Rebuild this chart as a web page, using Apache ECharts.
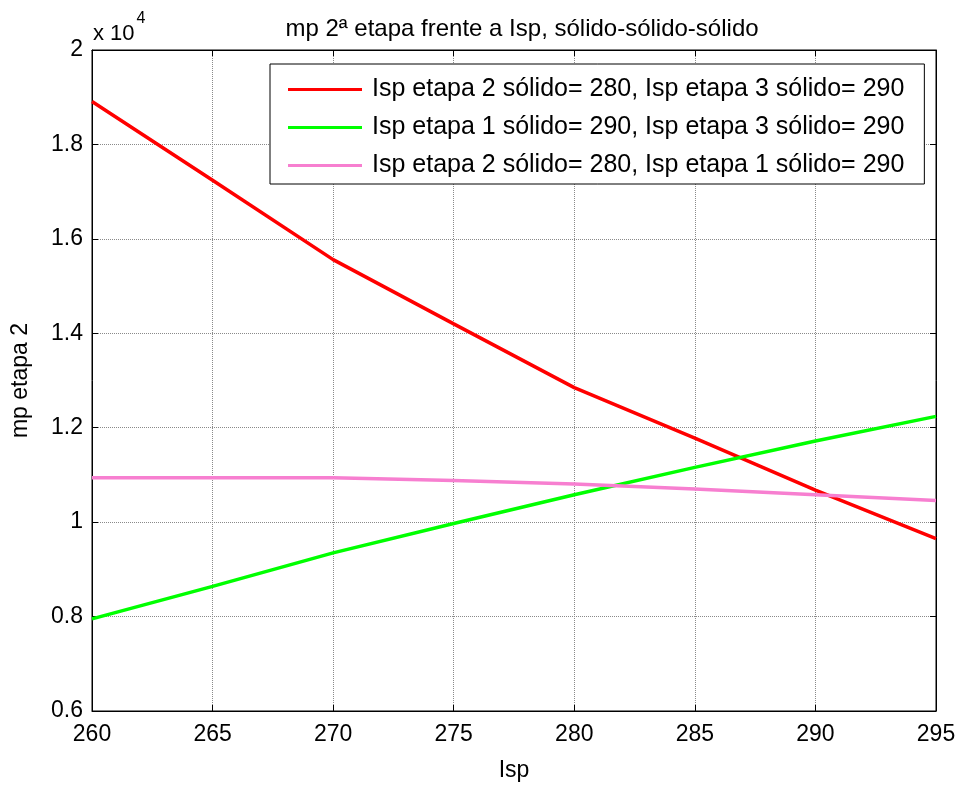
<!DOCTYPE html>
<html>
<head>
<meta charset="utf-8">
<script src="https://cdn.jsdelivr.net/npm/echarts@6/dist/echarts.min.js"></script>
<style>
html,body{margin:0;padding:0;background:#fff;}
#chart{width:961px;height:787px;}
</style>
</head>
<body>
<div id="chart"></div>
<script>
const isp = [260, 265, 270, 275, 280, 285, 290, 295];
const serieNames = [
  'Isp etapa 2 sólido= 280, Isp etapa 3 sólido= 290',
  'Isp etapa 1 sólido= 290, Isp etapa 3 sólido= 290',
  'Isp etapa 2 sólido= 280, Isp etapa 1 sólido= 290'
];
const redValues = [18910, 17240, 15560, 14200, 12850, 11780, 10680, 9650];
const greenValues = [7950, 8640, 9350, 9970, 10580, 11160, 11720, 12240];
const pinkValues = [10940, 10940, 10940, 10880, 10810, 10700, 10580, 10460];
const yTicks = [6000, 8000, 10000, 12000, 14000, 16000, 18000, 20000];
const xTicks = [260, 265, 270, 275, 280, 285, 290, 295];

const FONT = '"Liberation Sans", Arial, sans-serif';
const chart = echarts.init(document.getElementById('chart'));

function pairs(vals){ return isp.map((x,i)=>[x, vals[i]]); }

const grid = {left: 92, right: 25, top: 50, bottom: 71, show: true, borderColor: '#000', borderWidth: 1};

const xBase = {
  type: 'value', min: xTicks[0], max: xTicks[xTicks.length-1], interval: 5,
  axisTick: {show: true, inside: true, length: 6, lineStyle: {color: '#000'}},
  axisLine: {show: true, onZero: false, lineStyle: {color: '#000', width: 1}}
};
const yBase = {
  type: 'value', min: yTicks[0], max: yTicks[yTicks.length-1], interval: 2000,
  axisTick: {show: true, inside: true, length: 6, lineStyle: {color: '#000'}},
  axisLine: {show: true, onZero: false, lineStyle: {color: '#000', width: 1}}
};

const colors = ['#ff0000', '#00ff00', '#f77fd0'];
const dataSets = [redValues, greenValues, pinkValues];

chart.setOption({
  animation: false,
  backgroundColor: '#fff',
  title: {
    text: 'mp 2ª etapa frente a Isp, sólido-sólido-sólido',
    left: 517, textAlign: 'center', top: 12,
    textStyle: {fontFamily: FONT, fontSize: 24, fontWeight: 'normal', color: '#000'}
  },
  grid: grid,
  legend: {
    left: 270, top: 64,
    orient: 'vertical',
    backgroundColor: '#fff',
    borderColor: '#000', borderWidth: 1,
    padding: [13, 20, 6, 18],
    itemWidth: 74, itemHeight: 14, itemGap: 13,
    textStyle: {fontFamily: FONT, fontSize: 25, color: '#000', lineHeight: 24, padding: [0,0,0,5]},
    data: serieNames.map((n,i)=>({name: n, icon: 'path://M0,0 L74,0 L74,3 L0,3 Z', itemStyle: {color: colors[i]}})),
    itemStyle: {borderWidth: 0}
  },
  xAxis: [
    Object.assign({}, xBase, {
      position: 'bottom',
      name: 'Isp', nameLocation: 'middle', nameGap: 48,
      nameTextStyle: {fontFamily: FONT, fontSize: 23, color: '#000'},
      axisLabel: {fontFamily: FONT, fontSize: 23, color: '#000', margin: 12},
      splitLine: {show: true, lineStyle: {color: '#8a8a8a', type: [1, 1], width: 1}}
    }),
    Object.assign({}, xBase, {position: 'top', axisLabel: {show: false}, splitLine: {show: false}})
  ],
  yAxis: [
    Object.assign({}, yBase, {
      position: 'left',
      name: 'mp etapa 2', nameLocation: 'middle', nameGap: 60,
      nameTextStyle: {fontFamily: FONT, fontSize: 23, color: '#000'},
      axisLabel: {fontFamily: FONT, fontSize: 23, color: '#000', margin: 9,
        formatter: v => String(Math.round(v/1000)/10)},
      splitLine: {show: true, lineStyle: {color: '#8a8a8a', type: [1, 1], width: 1}}
    }),
    Object.assign({}, yBase, {position: 'right', axisLabel: {show: false}, splitLine: {show: false}})
  ],
  graphic: [{
    type: 'text', left: 93, top: 11,
    style: {
      text: '{a|x 10}{s|4}',
      rich: {
        a: {fontFamily: FONT, fontSize: 22, fill: '#000', verticalAlign: 'bottom', lineHeight: 34},
        s: {fontFamily: FONT, fontSize: 16, fill: '#000', verticalAlign: 'top', lineHeight: 34, padding: [0,0,8,2]}
      }
    }
  }],
  series: dataSets.map((vals, i) => ({
    name: serieNames[i], type: 'line', data: pairs(vals),
    symbol: 'none', smooth: false, z: 3,
    lineStyle: {color: colors[i], width: 3.5},
    itemStyle: {color: colors[i]}
  }))
});
</script>
</body>
</html>
